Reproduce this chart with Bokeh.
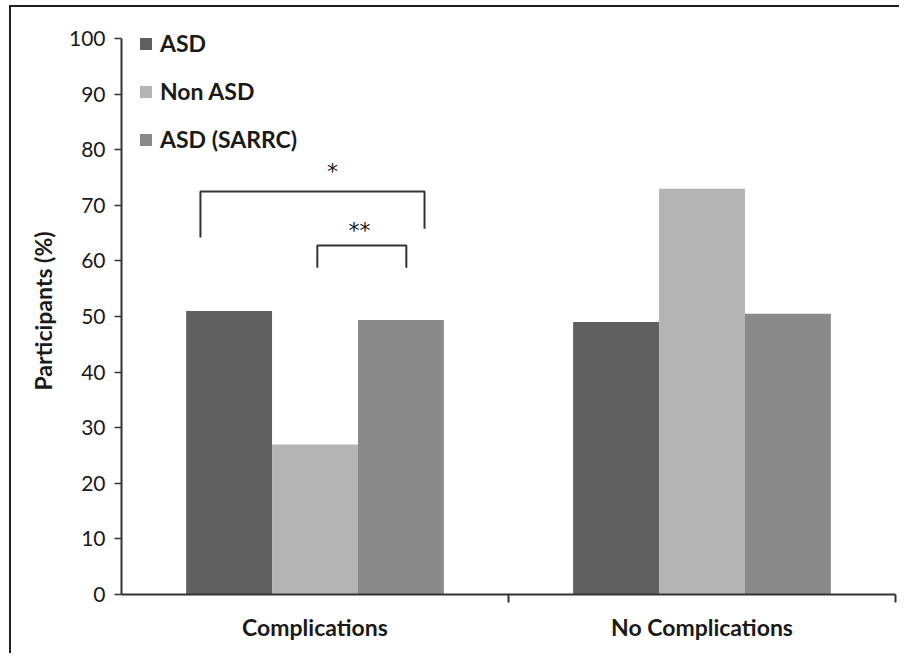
from bokeh.plotting import figure
from bokeh.models import Range1d, FixedTicker, Legend, LegendItem, ColumnDataSource
from bokeh.core.properties import value
from bokeh.embed import file_html
from bokeh.resources import INLINE

# ---- data ----
categories = ["Complications", "No Complications"]
groups = ["ASD", "Non ASD", "ASD (SARRC)"]
asd = [51.0, 49.0]
non_asd = [27.0, 73.0]
asd_sarrc = [49.4, 50.5]
y_ticks = [0, 10, 20, 30, 40, 50, 60, 70, 80, 90, 100]

# significance brackets (relative to category "Complications" centre)
bracket_xs = [[-0.296, -0.296, 0.283, 0.283], [0.006, 0.006, 0.236, 0.236]]
bracket_ys = [[64.2, 72.5, 72.5, 65.8], [58.8, 62.8, 62.8, 58.8]]
star_labels = ["*", "**"]
star_x = [0.045, 0.115]
star_y = [76.1, 65.4]

colors = ["#606060", "#b4b4b4", "#8a8a8a"]
bar_w = 0.222
offsets = [-bar_w, 0.0, bar_w]
TXT = "#1a1a1a"
AX = "#333333"
FONT = "Lato"

p = figure(width=890, height=648, x_range=Range1d(-0.5, 1.5), y_range=Range1d(0, 102),
           output_backend="svg", toolbar_location=None,
           min_border_left=110, min_border_right=6, min_border_top=20, min_border_bottom=61)
p.grid.visible = False
p.outline_line_color = None
p.background_fill_color = "white"
p.border_fill_color = "white"
p.styles = {"border-top": "2px solid #231f20", "border-left": "2px solid #231f20",
            "margin-top": "5px", "margin-left": "9px"}

series = [asd, non_asd, asd_sarrc]
renderers = []
for i, vals in enumerate(series):
    xs = [k + offsets[i] for k in range(len(categories))]
    src = ColumnDataSource(dict(x=xs, top=vals))
    r = p.vbar(x="x", top="top", width=bar_w, bottom=0, source=src,
               fill_color=colors[i], line_color=None)
    renderers.append(r)

# brackets
p.multi_line(xs=bracket_xs, ys=bracket_ys, line_color=AX, line_width=2)
p.text(x=star_x, y=star_y, text=star_labels, text_align="center", text_baseline="middle",
       text_font=value("DejaVu Sans"), text_font_size="22px", text_color=TXT)

# x axis
xa = p.xaxis[0]
xa.ticker = FixedTicker(ticks=list(range(len(categories))), minor_ticks=[0.5, 1.5])
xa.major_label_overrides = {i: c for i, c in enumerate(categories)}
xa.axis_line_color = AX
xa.axis_line_width = 2
xa.major_tick_line_color = None
xa.major_tick_out = 8
xa.major_tick_in = 0
xa.minor_tick_line_color = AX
xa.minor_tick_line_width = 2
xa.minor_tick_out = 8
xa.minor_tick_in = 0
xa.major_label_standoff = 10
xa.major_label_text_font = FONT
xa.major_label_text_font_style = "bold"
xa.major_label_text_font_size = "23px"
xa.major_label_text_color = TXT

# y axis
ya = p.yaxis[0]
ya.ticker = FixedTicker(ticks=y_ticks)
ya.bounds = (y_ticks[0], y_ticks[-1])
ya.axis_line_color = AX
ya.axis_line_width = 2
ya.major_tick_line_color = AX
ya.major_tick_line_width = 1.5
ya.major_tick_out = 7
ya.major_tick_in = 0
ya.minor_tick_line_color = None
ya.major_label_standoff = 9
ya.major_label_text_font = FONT
ya.major_label_text_font_size = "21px"
ya.major_label_text_color = TXT
ya.axis_label = "Participants (%)"
ya.axis_label_text_font = FONT
ya.axis_label_text_font_style = "bold"
ya.axis_label_text_font_size = "23px"
ya.axis_label_text_color = TXT
ya.axis_label_standoff = 9

legend = Legend(items=[LegendItem(label=g, renderers=[r]) for g, r in zip(groups, renderers)],
                location=(17, 441), padding=0, margin=0, spacing=20,
                glyph_width=15, glyph_height=15, label_height=20, label_standoff=7,
                border_line_color=None, background_fill_alpha=0,
                label_text_font=FONT, label_text_font_style="bold",
                label_text_font_size="23px", label_text_color=TXT)
p.add_layout(legend)

open("out.html", "w").write(file_html(p, INLINE))
